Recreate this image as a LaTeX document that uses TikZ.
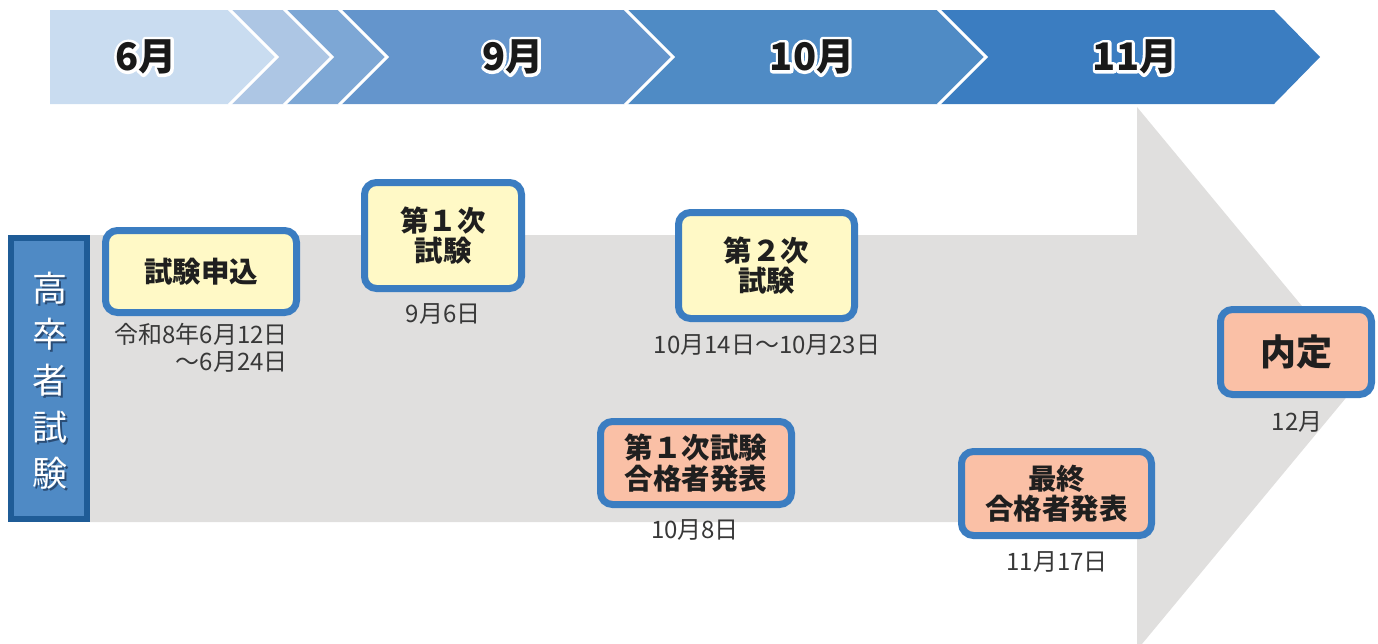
\documentclass[tikz,border=0pt]{standalone}
\usepackage{fontspec}
\newfontfamily\jp{Noto Sans CJK JP}
\usetikzlibrary{calc}
\definecolor{segA}{HTML}{C9DCF0}
\definecolor{segB}{HTML}{ADC6E4}
\definecolor{segC}{HTML}{7DA7D5}
\definecolor{segD}{HTML}{6495CC}
\definecolor{segE}{HTML}{4F8BC5}
\definecolor{segF}{HTML}{3B7DC1}
\definecolor{lblfill}{HTML}{4F8AC5}
\definecolor{lblborder}{HTML}{1F5C97}
\definecolor{boxborder}{HTML}{3B7DC1}
\definecolor{yellowfill}{HTML}{FFF9C6}
\definecolor{salmonfill}{HTML}{FAC0A6}
\definecolor{arrowgray}{HTML}{E0DFDE}
\definecolor{datetext}{HTML}{383838}
\definecolor{shadowc}{HTML}{2A4C75}
\newcommand\strokedtext[1]{\special{pdf:literal direct 1 j 1 J 2 Tr 6 w 1 1 1 RG}#1\special{pdf:literal direct 0 Tr}}
\newcommand\monthlabel[3]{%
  \node[monthtxt,text=white] (#1halo) at (#2) {\strokedtext{#3}};
  \node[monthtxt] (#1) at (#2) {#3};}
\begin{document}
\begin{tikzpicture}[x=1pt,y=-1pt,
  monthtxt/.style={font=\jp\bfseries\fontsize{38}{38}\selectfont, text=black!90, inner sep=0pt},
  evbox/.style={draw=boxborder, line width=7pt, rounded corners=12pt, align=center,
     font=\jp\bfseries\fontsize{28.5}{30.5}\selectfont, text=black!88, inner sep=0pt},
  yellowbox/.style={evbox, fill=yellowfill},
  salmonbox/.style={evbox, fill=salmonfill},
  datelbl/.style={font=\jp\fontsize{24}{27}\selectfont, text=datetext, inner sep=0pt},
  vtext/.style={font=\jp\fontsize{35}{46.25}\selectfont, align=center, inner sep=0pt}]
\useasboundingbox (0,0) rectangle (1378,643);
\clip (0,0) rectangle (1378,643);
% banner
\fill[segA] (50,10) -- (229,10) -- (277,57) -- (229,104) -- (50,104) -- cycle;
\fill[segB] (229,10) -- (284,10) -- (332,57) -- (284,104) -- (229,104) -- (277,57) -- cycle;
\fill[segC] (284,10) -- (339,10) -- (387,57) -- (339,104) -- (284,104) -- (332,57) -- cycle;
\fill[segD] (339,10) -- (625,10) -- (673,57) -- (625,104) -- (339,104) -- (387,57) -- cycle;
\fill[segE] (625,10) -- (938,10) -- (986,57) -- (938,104) -- (625,104) -- (673,57) -- cycle;
\fill[segF] (938,10) -- (1274,10) -- (1320,57) -- (1274,104) -- (938,104) -- (986,57) -- cycle;
\foreach \xx in {229,284,339,625,938}{
  \draw[white, line width=3pt] (\xx,9) -- ({\xx+48},57) -- (\xx,105);}
\coordinate (m6) at (146,57);
\coordinate (m9) at (513,57);
\coordinate (m10) at (812,57);
\coordinate (m11) at (1135,57);
\monthlabel{t6}{m6}{6月}
\monthlabel{t9}{m9}{9月}
\monthlabel{t10}{m10}{10月}
\monthlabel{t11}{m11}{11月}
% gray arrow
\fill[arrowgray] (90,235) -- (1137,235) -- (1137,107) -- (1362,378.5) -- (1137,650) -- (1137,522) -- (90,522) -- cycle;
% left label
\node[draw=lblborder, fill=lblfill, line width=6pt, minimum width=76pt, minimum height=281pt, inner sep=0pt] (lbl) at (49,378.5) {};
\node[vtext, text=shadowc] (vts) at (51.5,382.5) {高\\卒\\者\\試\\験};
\node[vtext, text=white] (vt) at (49.5,380.5) {高\\卒\\者\\試\\験};
% boxes
\node[yellowbox, minimum width=191pt, minimum height=82pt] (apply) at (201,271.5) {試験申込};
\node[yellowbox, minimum width=157pt, minimum height=106pt] (first) at (443,235.5) {第１次\\試験};
\node[yellowbox, minimum width=176pt, minimum height=106pt] (second) at (766.5,265.5) {第２次\\試験};
\node[salmonbox, minimum width=191pt, minimum height=83pt] (pass1) at (696,463) {第１次試験\\合格者発表};
\node[salmonbox, minimum width=190pt, minimum height=84pt] (final) at (1056.5,493.5) {最終\\合格者発表};
\node[salmonbox, minimum width=151pt, minimum height=85pt, font=\jp\bfseries\fontsize{36}{36}\selectfont] (naitei) at (1296,352) {内定};
% dates
\node[datelbl, align=right, anchor=east] (dapply) at (288,348) {令和8年6月12日\\〜6月24日};
\node[datelbl] (dfirst) at (443,314) {9月6日};
\node[datelbl] (dsecond) at (767,345) {10月14日〜10月23日};
\node[datelbl] (dpass1) at (695,530) {10月8日};
\node[datelbl] (dfinal) at (1057,562) {11月17日};
\node[datelbl] (dnaitei) at (1297,422) {12月};
\end{tikzpicture}
\end{document}
